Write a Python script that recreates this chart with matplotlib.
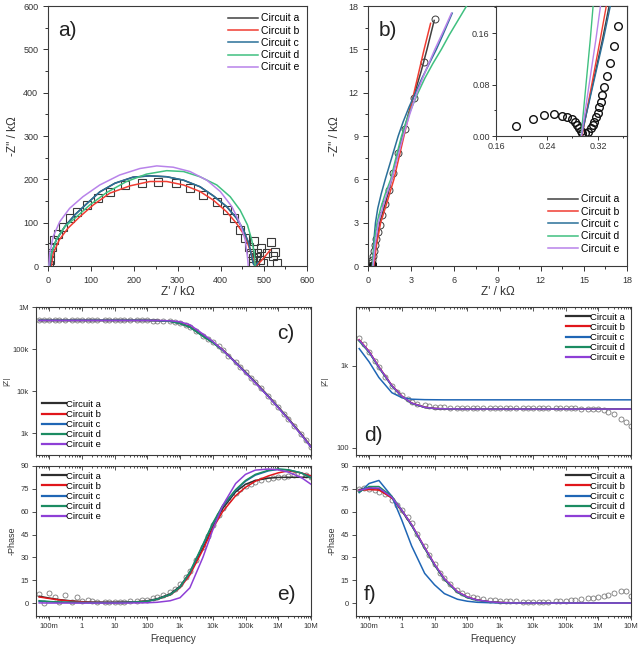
import matplotlib
matplotlib.use('Agg')
import matplotlib.pyplot as plt
from matplotlib.ticker import FixedLocator, FixedFormatter, LogLocator, NullFormatter, MultipleLocator, NullLocator

plt.rcParams['font.family'] = ['Liberation Sans', 'DejaVu Sans']

# ---------------- data ----------------
circuits = ['Circuit a', 'Circuit b', 'Circuit c', 'Circuit d', 'Circuit e']
colors_top = ['#404040', '#f03c32', '#2a7099', '#40c080', '#b883ea']
colors_bot = ['#2e2e2e', '#e0161b', '#1f66b5', '#1c8c62', '#8e3fd6']

# Panel a: Nyquist (kOhm)
a_data_x = [2, 4, 5, 10, 15, 23, 35, 50, 68, 91, 115, 143, 178, 217, 255, 296, 329, 360, 391, 414,
            430, 444, 457, 465, 470, 474, 476,
            478, 494, 484, 507, 516, 527, 521, 530, 499, 483, 491]
a_data_y = [2, 15, 29, 45, 60, 75, 91, 110, 125, 141, 158, 171, 187, 192, 194, 191, 181, 165, 148, 129,
            110, 83, 64, 45, 29, 18, 6,
            58, 41, 29, 31, 55, 32, 22, 6, 6, 21, 15]

a_fit_x = {
    'a': [5, 8, 19, 39, 62, 89, 120, 155, 197, 236, 275, 314, 352, 383, 414, 437, 453, 465, 472, 476, 480, 486],
    'b': [8, 12, 26, 46, 74, 105, 143, 190, 236, 275, 314, 352, 383, 414, 437, 457, 468, 476, 482, 495, 505, 515],
    'c': [5, 8, 19, 39, 62, 89, 120, 155, 197, 236, 275, 314, 352, 383, 414, 437, 453, 465, 472, 476, 480, 486],
    'd': [2, 8, 19, 39, 62, 97, 135, 182, 228, 275, 314, 352, 391, 422, 445, 462, 472, 478, 480],
    'e': [2, 4, 12, 27, 50, 81, 120, 166, 213, 252, 290, 329, 368, 399, 426, 445, 457, 462, 464],
}
a_fit_y = {
    'a': [0, 29, 60, 91, 118, 143, 171, 191, 205, 208, 206, 198, 183, 162, 137, 110, 83, 52, 22, 5, 0, 8],
    'b': [0, 29, 60, 87, 114, 141, 168, 185, 195, 195, 187, 172, 152, 125, 98, 68, 37, 14, 0, 13, 25, 37],
    'c': [0, 29, 60, 91, 118, 143, 171, 191, 205, 208, 206, 198, 183, 162, 137, 110, 83, 52, 22, 5, 0, 8],
    'd': [0, 29, 60, 91, 110, 141, 169, 195, 212, 220, 218, 206, 187, 160, 129, 95, 60, 29, 0],
    'e': [0, 29, 68, 102, 133, 160, 187, 210, 225, 231, 228, 218, 198, 172, 137, 98, 60, 22, 0],
}

# Panel b: Nyquist zoom (kOhm)
b_data_x = [0.05, 0.16, 0.23, 0.28, 0.33, 0.40, 0.46, 0.56, 0.67, 0.81, 0.98, 1.20, 1.44, 1.74, 2.09, 2.55, 3.20, 3.90, 4.67]
b_data_y = [0.00, 0.02, 0.18, 0.42, 0.69, 1.04, 1.45, 1.90, 2.37, 2.84, 3.53, 4.30, 5.26, 6.46, 7.85, 9.46, 11.6, 14.1, 17.1]

b_fit_x = {
    'a': [0.38, 0.55, 0.82, 1.25, 1.65, 2.00, 2.40, 2.80, 3.25, 3.70, 4.10, 4.60],
    'b': [0.40, 0.60, 0.88, 1.35, 1.80, 2.15, 2.50, 2.85, 3.20, 3.55, 3.90, 4.35],
    'c': [0.35, 0.38, 0.43, 0.52, 0.68, 0.92, 1.20, 1.50, 1.80, 2.10, 2.45, 2.85, 3.30, 3.75, 4.25, 4.75, 5.20, 5.85],
    'd': [0.30, 0.38, 0.48, 0.63, 0.88, 1.20, 1.58, 1.82, 2.07, 2.33, 2.65, 3.05, 3.48, 3.95, 4.50, 5.10, 5.65, 6.25, 6.85, 7.00],
    'e': [0.35, 0.50, 0.72, 1.15, 1.65, 2.05, 2.45, 2.90, 3.40, 4.00, 4.65, 5.35, 5.80],
}
b_fit_y = {
    'a': [0, 1.5, 3, 4.5, 6, 7.5, 9, 10.5, 12, 13.5, 15, 17],
    'b': [0, 1.5, 3, 4.5, 6, 7.5, 9, 10.5, 12, 13.5, 15, 16.8],
    'c': [0, 1, 2, 3, 4, 5, 6, 7, 8, 9, 10, 11, 12, 13, 14, 15, 16, 17.5],
    'd': [0, 1, 2, 3, 4, 5, 6, 7, 8, 9, 10, 11, 12, 13, 14, 15, 16, 17, 18, 18.3],
    'e': [0, 1.5, 3, 4.5, 6, 7.5, 9, 10.5, 12, 13.5, 15, 16.5, 17.5],
}

# Inset of b (kOhm)
ins_data_x = [0.191, 0.2176, 0.235, 0.2515, 0.263, 0.272, 0.279, 0.284, 0.2876, 0.2897, 0.293, 0.295,
              0.300, 0.305, 0.3085, 0.3117, 0.314, 0.317, 0.3195, 0.322, 0.324, 0.327, 0.330, 0.334,
              0.339, 0.3446, 0.3514]
ins_data_y = [0.0155, 0.0264, 0.0326, 0.0337, 0.0316, 0.029, 0.026, 0.022, 0.017, 0.012, 0.0078, 0.005,
              0.004, 0.0067, 0.012, 0.017, 0.022, 0.029, 0.036, 0.0446, 0.053, 0.064, 0.0766, 0.094,
              0.114, 0.140, 0.171]
ins_fit_y = [0.0, 0.05, 0.10, 0.15, 0.21]
ins_fit_x = {
    'a': [0.2940, 0.3050, 0.3160, 0.3270, 0.3390],
    'b': [0.2950, 0.3045, 0.3140, 0.3235, 0.3345],
    'c': [0.2940, 0.3055, 0.3170, 0.3285, 0.3410],
    'd': [0.2935, 0.2983, 0.3031, 0.3079, 0.3130],
    'e': [0.2940, 0.3016, 0.3091, 0.3167, 0.3250],
}

# Bode data
freq_data = [0.05, 0.07, 0.1, 0.15, 0.2, 0.3, 0.5, 0.7,
             1, 1.5, 2, 3, 5, 7,
             10, 15, 20, 30, 50, 70,
             100, 150, 200, 300, 500, 700,
             1e3, 1.5e3, 2e3, 3e3, 5e3, 7e3,
             1e4, 1.5e4, 2e4, 3e4, 5e4, 7e4,
             1e5, 1.5e5, 2e5, 3e5, 5e5, 7e5,
             1e6, 1.5e6, 2e6, 3e6, 5e6, 7e6,
             1e7]
zmod_c_data = [483e3, 482e3, 484e3, 482e3, 481e3, 483e3, 482e3, 482e3,
               482e3, 481e3, 482e3, 481e3, 482e3, 481e3,
               481e3, 482e3, 481e3, 481e3, 480e3, 480e3,
               479e3, 477e3, 474e3, 468e3, 455e3, 440e3,
               405e3, 370e3, 335e3, 268e3, 205e3, 172e3,
               145e3, 115e3, 95e3, 70e3, 48e3, 37e3,
               28e3, 20e3, 16e3, 11.5e3, 7.5e3, 5.6e3,
               4.1e3, 2.85e3, 2.2e3, 1.5e3, 940, 680,
               470]
phase_e_data = [5.9, 0.2, 6.5, 3.7, 0.4, 5.5, 1.0, 3.9,
                1.5, 1.8, 1.2, 1.0, 0.6, 0.8,
                0.8, 0.7, 1.0, 1.1, 1.5, 1.8,
                2.2, 3.0, 3.8, 5.0, 7.5, 9.5,
                12.5, 17.0, 21.0, 28.0, 37.0, 44.0,
                51.0, 58.0, 62.5, 67.5, 72.5, 75.0,
                77.0, 78.5, 79.5, 80.5, 81.5, 82.0,
                82.5, 83.0, 83.5, 84.0, 84.0, 84.0,
                83.0]
zmod_d_data = [2150, 1850, 1480, 1150, 970, 740, 560, 480,
               440, 390, 365, 345, 330, 322,
               317, 314, 312, 310, 309, 308,
               308, 308, 307, 307, 307, 306,
               306, 306, 306, 305, 305, 305,
               305, 305, 305, 304, 304, 304,
               304, 303, 303, 302, 300, 298,
               295, 286, 276, 258, 228, 208,
               183]
phase_f_data = [74.8, 75.3, 75.2, 74.3, 73.0, 71.5, 67.8, 64.5,
                61.0, 56.5, 52.3, 45.5, 37.2, 31.3,
                25.8, 20.0, 16.7, 12.4, 8.6, 6.8,
                5.2, 3.9, 3.3, 2.6, 2.0, 1.7,
                1.5, 1.3, 1.2, 1.1, 1.0, 1.0,
                1.0, 1.0, 1.0, 1.0, 1.1, 1.2,
                1.5, 1.8, 2.1, 2.6, 3.2, 3.5,
                3.8, 4.8, 5.6, 6.6, 7.6, 8.0,
                4.8]

freq_fit = [0.05, 0.1, 0.2, 0.5, 1, 2, 5, 10, 20, 50, 100, 200, 500,
            1e3, 2e3, 5e3, 1e4, 2e4, 5e4, 1e5, 2e5, 5e5, 1e6, 2e6, 5e6, 1e7]
zmod_c_fit = {
    'a': [480e3, 480e3, 480e3, 480e3, 480e3, 480e3, 480e3, 480e3, 480e3, 480e3, 479e3, 476e3, 456e3,
          407e3, 335e3, 205e3, 145e3, 95e3, 48e3, 28e3, 16e3, 7.5e3, 4.1e3, 2.2e3, 940, 470],
    'b': [478e3, 478e3, 478e3, 478e3, 478e3, 478e3, 478e3, 478e3, 478e3, 478e3, 478e3, 476e3, 460e3,
          415e3, 342e3, 210e3, 147e3, 96e3, 48.5e3, 28.5e3, 16.3e3, 7.6e3, 4.15e3, 2.25e3, 960, 480],
    'c': [480e3, 480e3, 480e3, 480e3, 480e3, 480e3, 480e3, 480e3, 480e3, 480e3, 479e3, 476e3, 456e3,
          407e3, 335e3, 205e3, 145e3, 95e3, 48e3, 28e3, 16e3, 7.5e3, 4.1e3, 2.2e3, 940, 470],
    'd': [479e3, 479e3, 479e3, 479e3, 479e3, 479e3, 479e3, 479e3, 479e3, 479e3, 478e3, 475e3, 455e3,
          403e3, 330e3, 200e3, 142e3, 93e3, 47e3, 27.5e3, 15.8e3, 7.4e3, 4.05e3, 2.2e3, 930, 465],
    'e': [478e3, 478e3, 478e3, 478e3, 478e3, 478e3, 478e3, 478e3, 478e3, 478e3, 478e3, 477e3, 470e3,
          445e3, 378e3, 228e3, 152e3, 95e3, 47e3, 27e3, 15.5e3, 7.3e3, 4.0e3, 2.15e3, 920, 460],
}
phase_e_fit = {
    'a': [4.5, 3.3, 2.3, 1.4, 0.9, 0.6, 0.5, 0.5, 0.6, 0.9, 1.5, 2.8, 6.0,
          11.0, 20.0, 36.0, 50.0, 62.0, 73.0, 78.0, 80.5, 82.0, 82.5, 82.6, 82.6, 82.6],
    'b': [4.0, 3.0, 2.1, 1.2, 0.8, 0.5, 0.4, 0.4, 0.5, 0.8, 1.3, 2.4, 5.3,
          10.0, 18.5, 35.0, 49.0, 60.0, 70.5, 76.0, 80.0, 83.5, 85.5, 86.8, 85.5, 83.5],
    'c': [1.2, 0.9, 0.6, 0.4, 0.3, 0.3, 0.3, 0.3, 0.4, 0.7, 1.2, 2.5, 5.5,
          10.5, 20.0, 38.0, 52.0, 63.5, 74.0, 80.0, 84.0, 86.8, 87.8, 87.5, 85.5, 82.5],
    'd': [1.5, 1.0, 0.7, 0.5, 0.3, 0.3, 0.3, 0.3, 0.4, 0.7, 1.2, 2.5, 5.5,
          10.5, 20.5, 38.5, 52.5, 64.0, 74.5, 80.5, 84.5, 87.2, 88.0, 87.5, 85.5, 82.0],
    'e': [0.1, 0.0, 0.0, 0.0, 0.0, 0.0, 0.0, 0.0, 0.0, 0.1, 0.2, 0.5, 1.5,
          3.5, 10.0, 30.0, 48.0, 64.0, 78.5, 84.5, 87.3, 88.0, 87.5, 86.0, 82.5, 78.0],
}
zmod_d_fit = {
    'a': [2050, 1480, 960, 570, 425, 350, 312, 302, 299, 298, 297, 297, 297,
          297, 297, 297, 297, 297, 297, 297, 297, 297, 297, 297, 297, 297],
    'b': [2080, 1500, 970, 575, 428, 352, 313, 302, 299, 298, 297, 297, 297,
          297, 297, 297, 297, 297, 297, 297, 297, 297, 297, 297, 297, 297],
    'c': [1620, 1120, 720, 470, 410, 392, 387, 386, 385, 385, 385, 385, 385,
          385, 385, 385, 385, 385, 385, 385, 385, 385, 385, 385, 385, 385],
    'd': [2000, 1460, 950, 565, 422, 349, 311, 301, 298, 297, 297, 297, 297,
          297, 297, 297, 297, 297, 297, 297, 297, 297, 297, 297, 297, 297],
    'e': [2060, 1490, 965, 572, 426, 351, 312, 302, 299, 298, 297, 297, 297,
          297, 297, 297, 297, 297, 297, 297, 297, 297, 297, 297, 297, 297],
}
phase_f_fit = {
    'a': [74.5, 75.5, 75.0, 69.0, 60.5, 51.0, 36.0, 25.0, 15.5, 7.2, 3.8, 2.0, 0.8,
          0.4, 0.2, 0.1, 0, 0, 0, 0, 0, 0, 0, 0, 0, 0],
    'b': [74.0, 74.5, 74.2, 69.0, 61.0, 51.5, 36.5, 25.5, 16.0, 7.5, 4.0, 2.0, 0.8,
          0.3, 0.15, 0.05, 0, 0, 0, 0, 0, 0, 0, 0, 0, 0],
    'c': [72.5, 78.5, 80.5, 70.0, 54.5, 37.5, 19.5, 12.0, 6.2, 2.5, 1.2, 0.5, 0.2,
          0.1, 0, 0, 0, 0, 0, 0, 0, 0, 0, 0, 0, 0],
    'd': [73.0, 76.5, 76.5, 70.0, 61.0, 51.0, 36.0, 25.0, 15.5, 7.0, 3.5, 1.8, 0.7,
          0.3, 0.1, 0, 0, 0, 0, 0, 0, 0, 0, 0, 0, 0],
    'e': [74.0, 75.5, 75.5, 69.5, 61.0, 51.5, 36.5, 25.5, 16.0, 7.5, 4.0, 2.0, 0.8,
          0.3, 0.1, 0, 0, 0, 0, 0, 0, 0, 0, 0, 0, 0],
}

freq_ticks = [0.1, 1, 10, 100, 1e3, 1e4, 1e5, 1e6, 1e7]
freq_ticklabels = ['100m', '1', '10', '100', '1k', '10k', '100k', '1M', '10M']

keys = ['a', 'b', 'c', 'd', 'e']

# ---------------- figure ----------------
W, H = 640, 646
fig = plt.figure(figsize=(W / 100, H / 100), dpi=100)


def box(l, t, r, b):
    return [l / W, 1 - b / H, (r - l) / W, (b - t) / H]


spine_col = '#3a3a3a'
text_col = '#333333'


def style_spines(ax):
    for s in ax.spines.values():
        s.set_color(spine_col)
        s.set_linewidth(0.8)


# ---- panel a ----
axa = fig.add_axes(box(48, 6, 307, 266))
axa.plot(a_data_x, a_data_y, ls='none', marker='s', ms=5.2, mfc='none', mec='#3a3a3a', mew=0.8, zorder=2)
for k, lab, col in zip(keys, circuits, colors_top):
    axa.plot(a_fit_x[k], a_fit_y[k], color=col, lw=1.1, label=lab, zorder=3)
axa.set_xlim(0, 600)
axa.set_ylim(0, 600)
axa.xaxis.set_major_locator(MultipleLocator(100))
axa.yaxis.set_major_locator(MultipleLocator(100))
axa.xaxis.set_minor_locator(MultipleLocator(50))
axa.yaxis.set_minor_locator(MultipleLocator(50))
axa.tick_params(which='both', direction='out', labelsize=6.5, colors=text_col, width=0.7)
axa.tick_params(which='major', length=3.5)
axa.tick_params(which='minor', length=2)
axa.set_xlabel("Z' / k\u03a9", fontsize=8.5, color=text_col, labelpad=1)
axa.set_ylabel("-Z'' / k\u03a9", fontsize=8.5, color=text_col, labelpad=3)
style_spines(axa)
axa.legend(loc='upper right', bbox_to_anchor=(1.0, 1.0), frameon=False, fontsize=7.5,
           handlelength=2.9, handletextpad=0.3, labelspacing=0.22, borderaxespad=0.3)
axa.text(0.04, 0.905, 'a)', transform=axa.transAxes, fontsize=15, va='center', ha='left', color='#222222')

# ---- panel b ----
axb = fig.add_axes(box(368, 6, 627, 266))
axb.plot(b_data_x, b_data_y, ls='none', marker='o', ms=5, mfc='none', mec='#3a3a3a', mew=0.7, zorder=2)
axb.plot(ins_data_x, ins_data_y, ls='none', marker='o', ms=4, mfc='none', mec='#111111', mew=0.8, zorder=2)
for k, lab, col in zip(keys, circuits, colors_top):
    axb.plot(b_fit_x[k], b_fit_y[k], color=col, lw=1.1, label=lab, zorder=3)
axb.set_xlim(0, 18)
axb.set_ylim(0, 18)
axb.xaxis.set_major_locator(MultipleLocator(3))
axb.yaxis.set_major_locator(MultipleLocator(3))
axb.xaxis.set_minor_locator(MultipleLocator(1.5))
axb.yaxis.set_minor_locator(MultipleLocator(1.5))
axb.tick_params(which='both', direction='out', labelsize=6.5, colors=text_col, width=0.7)
axb.tick_params(which='major', length=3.5)
axb.tick_params(which='minor', length=2)
axb.set_xlabel("Z' / k\u03a9", fontsize=8.5, color=text_col, labelpad=1)
axb.set_ylabel("-Z'' / k\u03a9", fontsize=8.5, color=text_col, labelpad=5)
style_spines(axb)
axb.legend(loc='lower right', bbox_to_anchor=(1.0, 0.02), frameon=False, fontsize=7.5,
           handlelength=2.9, handletextpad=0.3, labelspacing=0.22, borderaxespad=0.3)
axb.text(0.04, 0.905, 'b)', transform=axb.transAxes, fontsize=15, va='center', ha='left', color='#222222')

# ---- inset ----
axi = fig.add_axes(box(496, 6, 627, 136))
axi.plot(ins_data_x, ins_data_y, ls='none', marker='o', ms=5.5, mfc='none', mec='#111111', mew=1.0, zorder=2)
for k, col in zip(keys, colors_top):
    axi.plot(ins_fit_x[k], ins_fit_y, color=col, lw=1.0, zorder=3)
axi.set_xlim(0.16, 0.3655)
axi.set_ylim(0, 0.202)
axi.set_xticks([0.16, 0.24, 0.32])
axi.set_xticklabels(['0.16', '0.24', '0.32'])
axi.set_yticks([0.0, 0.08, 0.16])
axi.set_yticklabels(['0.00', '0.08', '0.16'])
axi.xaxis.set_minor_locator(MultipleLocator(0.04))
axi.yaxis.set_minor_locator(MultipleLocator(0.04))
axi.tick_params(which='both', direction='out', labelsize=6.5, colors=text_col, width=0.7, pad=1.5)
axi.tick_params(which='major', length=3)
axi.tick_params(which='minor', length=1.5)
style_spines(axi)


# ---- Bode panels ----
def bode_x(ax, labels):
    ax.set_xscale('log')
    ax.set_xlim(0.04, 1e7)
    ax.xaxis.set_major_locator(FixedLocator(freq_ticks))
    if labels:
        ax.xaxis.set_major_formatter(FixedFormatter(freq_ticklabels))
    else:
        ax.xaxis.set_major_formatter(NullFormatter())
    ax.xaxis.set_minor_locator(LogLocator(base=10, subs=(2, 3, 4, 5, 6, 7, 8, 9), numticks=30))
    ax.xaxis.set_minor_formatter(NullFormatter())
    ax.tick_params(which='both', direction='out', labelsize=5.5, colors=text_col, width=0.6, pad=2)
    ax.tick_params(which='major', length=3)
    ax.tick_params(which='minor', length=1.6)
    sec = ax.secondary_xaxis('top')
    sec.xaxis.set_major_locator(FixedLocator(freq_ticks))
    sec.xaxis.set_major_formatter(NullFormatter())
    sec.xaxis.set_minor_locator(LogLocator(base=10, subs=(2, 3, 4, 5, 6, 7, 8, 9), numticks=30))
    sec.xaxis.set_minor_formatter(NullFormatter())
    sec.tick_params(which='both', direction='in', width=0.6, colors=spine_col)
    sec.tick_params(which='major', length=3)
    sec.tick_params(which='minor', length=1.6)
    sec.spines['top'].set_visible(False)
    style_spines(ax)


def bode_legend(ax, loc, anchor):
    leg = ax.legend(loc=loc, bbox_to_anchor=anchor, frameon=False, fontsize=6.8,
                    handlelength=2.6, handletextpad=0.0, labelspacing=0.12, borderaxespad=0.2)
    for ln in leg.get_lines():
        ln.set_linewidth(1.6)


data_kw = dict(ls='none', marker='o', ms=3.6, mfc='none', mec='#7a7a7a', mew=0.6, zorder=2)

# c
axc = fig.add_axes(box(36, 307, 311, 455))
axc.plot(freq_data, zmod_c_data, **data_kw)
for k, lab, col in zip(keys, circuits, colors_bot):
    axc.plot(freq_fit, zmod_c_fit[k], color=col, lw=1.1, label=lab, zorder=3)
bode_x(axc, False)
axc.set_yscale('log')
axc.set_ylim(300, 1e6)
axc.yaxis.set_major_locator(FixedLocator([1e3, 1e4, 1e5, 1e6]))
axc.yaxis.set_major_formatter(FixedFormatter(['1k', '10k', '100k', '1M']))
axc.yaxis.set_minor_locator(NullLocator())
axc.set_ylabel('|Z|', fontsize=6, color=text_col, labelpad=2)
bode_legend(axc, 'lower left', (0.0, 0.0))
axc.text(0.875, 0.82, 'c)', transform=axc.transAxes, fontsize=15, va='center', ha='left', color='#222222')

# d
axd = fig.add_axes(box(356, 307, 631, 455))
axd.plot(freq_data, zmod_d_data, **data_kw)
for k, lab, col in zip(keys, circuits, colors_bot):
    axd.plot(freq_fit, zmod_d_fit[k], color=col, lw=1.1, label=lab, zorder=3)
bode_x(axd, False)
axd.set_yscale('log')
axd.set_ylim(82, 5200)
axd.yaxis.set_major_locator(FixedLocator([100, 1e3]))
axd.yaxis.set_major_formatter(FixedFormatter(['100', '1k']))
axd.yaxis.set_minor_locator(NullLocator())
axd.set_ylabel('|Z|', fontsize=6, color=text_col, labelpad=6)
bode_legend(axd, 'upper right', (1.0, 1.0))
axd.text(0.03, 0.13, 'd)', transform=axd.transAxes, fontsize=15, va='center', ha='left', color='#222222')

# e
axe = fig.add_axes(box(36, 466, 311, 616))
axe.plot(freq_data, phase_e_data, **data_kw)
for k, lab, col in zip(keys, circuits, colors_bot):
    axe.plot(freq_fit, phase_e_fit[k], color=col, lw=1.1, label=lab, zorder=3)
bode_x(axe, True)
axe.set_ylim(-8.5, 90)
axe.yaxis.set_major_locator(FixedLocator([0, 15, 30, 45, 60, 75, 90]))
axe.set_ylabel('-Phase', fontsize=6.5, color=text_col, labelpad=3)
axe.set_xlabel('Frequency', fontsize=7, color=text_col, labelpad=3)
bode_legend(axe, 'upper left', (0.0, 1.0))
axe.text(0.875, 0.14, 'e)', transform=axe.transAxes, fontsize=15, va='center', ha='left', color='#222222')

# f
axf = fig.add_axes(box(356, 466, 631, 616))
axf.plot(freq_data, phase_f_data, **data_kw)
for k, lab, col in zip(keys, circuits, colors_bot):
    axf.plot(freq_fit, phase_f_fit[k], color=col, lw=1.1, label=lab, zorder=3)
bode_x(axf, True)
axf.set_ylim(-8.5, 90)
axf.yaxis.set_major_locator(FixedLocator([0, 15, 30, 45, 60, 75, 90]))
axf.set_ylabel('-Phase', fontsize=6.5, color=text_col, labelpad=3)
axf.set_xlabel('Frequency', fontsize=7, color=text_col, labelpad=3)
bode_legend(axf, 'upper right', (1.0, 1.0))
axf.text(0.03, 0.14, 'f)', transform=axf.transAxes, fontsize=15, va='center', ha='left', color='#222222')

fig.savefig('out.png', dpi=100)
